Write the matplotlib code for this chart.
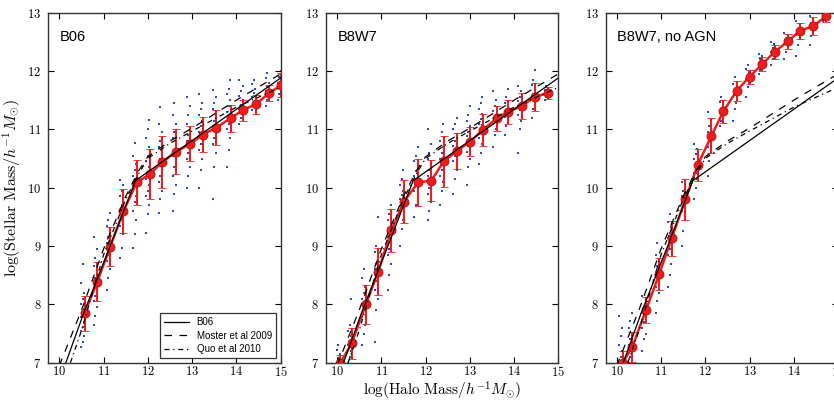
import matplotlib
matplotlib.use("Agg")
import matplotlib.pyplot as plt
from matplotlib.ticker import FuncFormatter

plt.rcParams["mathtext.fontset"] = "cm"

# model relations (black lines), same in every panel
b06_x = [10.1, 10.55, 11.15, 11.72, 15.0]
b06_y = [6.9, 7.85, 9.0, 10.12, 11.88]
moster_x = [10.0, 10.5, 11.0, 11.5, 11.8, 12.0, 12.5, 13.0, 14.0, 15.0]
moster_y = [6.95, 7.9, 8.95, 9.85, 10.3, 10.53, 10.8, 11.02, 11.5, 11.95]
guo_x = [10.25, 10.5, 11.0, 11.5, 11.8, 12.0, 12.5, 13.0, 14.0, 15.0]
guo_y = [7.0, 7.55, 8.85, 9.8, 10.25, 10.5, 10.76, 10.97, 11.38, 11.72]

# panel 1: B06
b06_bins = [10.57, 10.86, 11.15, 11.45, 11.75, 12.04, 12.33, 12.64, 12.96, 13.24,
            13.55, 13.87, 14.15, 14.44, 14.74, 15.02]
b06_med = [7.85, 8.39, 8.99, 9.6, 10.09, 10.23, 10.44, 10.62, 10.75, 10.91,
           11.03, 11.19, 11.33, 11.43, 11.62, 11.76]
b06_err = [0.3, 0.34, 0.34, 0.37, 0.39, 0.43, 0.45, 0.39, 0.3, 0.3,
           0.3, 0.23, 0.18, 0.16, 0.14, 0.2]
b06_dots = [
    [7.27, 7.35, 7.45, 7.55, 7.62, 7.7, 7.78, 7.85, 7.92, 8.0, 8.1, 8.2, 8.36, 8.7],
    [7.65, 7.8, 7.95, 8.05, 8.15, 8.25, 8.35, 8.45, 8.55, 8.65, 8.8, 8.95, 9.16],
    [8.25, 8.45, 8.6, 8.75, 8.85, 8.95, 9.05, 9.15, 9.25, 9.35, 9.45, 9.56],
    [8.8, 8.97, 9.2, 9.35, 9.45, 9.55, 9.62, 9.7, 9.78, 9.85, 9.95, 10.05, 10.13],
    [8.97, 9.2, 9.45, 9.6, 9.75, 9.85, 9.95, 10.05, 10.12, 10.2, 10.3, 10.4, 10.55, 10.76],
    [9.22, 9.55, 9.7, 9.85, 9.95, 10.05, 10.15, 10.25, 10.35, 10.45, 10.55, 10.7, 10.85, 11.0, 11.16],
    [9.56, 9.8, 9.95, 10.1, 10.2, 10.3, 10.4, 10.5, 10.6, 10.7, 10.8, 10.95, 11.1, 11.39],
    [9.6, 9.9, 10.05, 10.2, 10.35, 10.45, 10.55, 10.65, 10.75, 10.85, 10.95, 11.1, 11.25, 11.45],
    [10.0, 10.2, 10.35, 10.5, 10.6, 10.7, 10.8, 10.9, 11.0, 11.1, 11.25, 11.4, 11.56],
    [10.0, 10.3, 10.5, 10.65, 10.75, 10.85, 10.95, 11.05, 11.15, 11.25, 11.35, 11.45, 11.6],
    [9.8, 10.36, 10.6, 10.75, 10.85, 10.95, 11.05, 11.15, 11.25, 11.35, 11.45, 11.55, 11.67],
    [10.35, 10.65, 10.85, 11.0, 11.1, 11.2, 11.3, 11.4, 11.5, 11.6, 11.7, 11.84],
    [11.1, 11.2, 11.28, 11.35, 11.42, 11.5, 11.58, 11.65, 11.75, 11.85],
    [11.33, 11.4, 11.47, 11.55, 11.62, 11.7, 11.78, 11.85],
    [11.4, 11.5, 11.58, 11.65, 11.72, 11.8, 11.88, 11.96],
    [11.5, 11.6, 11.7, 11.8, 11.9, 12.0],
]

# panel 2: B8W7
b8w7_bins = [10.07, 10.33, 10.65, 10.93, 11.23, 11.51, 11.83, 12.13, 12.41, 12.71,
             13.01, 13.29, 13.61, 13.87, 14.17, 14.48, 14.77]
b8w7_med = [6.99, 7.33, 8.0, 8.56, 9.27, 9.76, 10.09, 10.12, 10.45, 10.63,
            10.79, 10.99, 11.19, 11.3, 11.4, 11.56, 11.62]
b8w7_err = [0.15, 0.27, 0.33, 0.4, 0.37, 0.37, 0.4, 0.35, 0.43, 0.31,
            0.25, 0.27, 0.21, 0.2, 0.23, 0.24, 0.1]
b8w7_dots = [
    [7.0, 7.08, 7.15, 7.22, 7.3],
    [7.0, 7.1, 7.2, 7.3, 7.38, 7.46, 7.55, 7.65, 8.1],
    [7.3, 7.5, 7.65, 7.78, 7.9, 8.0, 8.1, 8.2, 8.3, 8.45, 8.6],
    [7.35, 7.9, 8.1, 8.25, 8.4, 8.5, 8.6, 8.7, 8.8, 8.9, 9.0, 9.5],
    [8.25, 8.5, 8.7, 8.85, 8.95, 9.05, 9.15, 9.25, 9.35, 9.45, 9.55, 9.7],
    [9.0, 9.3, 9.45, 9.55, 9.65, 9.72, 9.8, 9.88, 9.95, 10.05, 10.15, 10.3],
    [9.5, 9.7, 9.85, 9.95, 10.05, 10.12, 10.2, 10.28, 10.36, 10.45, 10.55, 10.7],
    [9.45, 9.6, 9.75, 9.9, 10.0, 10.1, 10.2, 10.3, 10.4, 10.5, 10.6, 10.75, 11.0],
    [9.7, 9.95, 10.1, 10.2, 10.3, 10.4, 10.5, 10.6, 10.7, 10.8, 10.95, 11.1],
    [9.9, 10.15, 10.3, 10.45, 10.55, 10.65, 10.72, 10.8, 10.9, 11.0, 11.1, 11.2],
    [10.05, 10.35, 10.5, 10.62, 10.72, 10.8, 10.88, 10.96, 11.05, 11.15, 11.25, 11.4],
    [10.4, 10.6, 10.75, 10.85, 10.95, 11.02, 11.1, 11.18, 11.26, 11.35, 11.45, 11.55],
    [10.7, 10.9, 11.0, 11.1, 11.18, 11.25, 11.32, 11.4, 11.5, 11.65],
    [10.9, 11.05, 11.15, 11.22, 11.3, 11.38, 11.46, 11.55, 11.7],
    [10.6, 11.0, 11.15, 11.25, 11.33, 11.4, 11.48, 11.56, 11.65, 11.75],
    [11.2, 11.35, 11.45, 11.52, 11.6, 11.68, 11.76, 11.85, 12.02],
    [11.5, 11.56, 11.62, 11.68, 11.75],
]

# panel 3: B8W7, no AGN
noagn_bins = [10.13, 10.35, 10.66, 10.96, 11.24, 11.55, 11.83, 12.14, 12.41, 12.71,
              13.0, 13.29, 13.57, 13.87, 14.14, 14.44, 14.73]
noagn_med = [7.0, 7.27, 7.9, 8.52, 9.13, 9.8, 10.39, 10.89, 11.31, 11.66,
             11.9, 12.12, 12.33, 12.51, 12.69, 12.77, 12.94]
noagn_err = [0.2, 0.25, 0.22, 0.28, 0.3, 0.35, 0.28, 0.3, 0.2, 0.17,
             0.12, 0.12, 0.12, 0.13, 0.14, 0.16, 0.1]
noagn_dots = [
    [7.0, 7.1, 7.2, 7.3, 7.45, 7.6, 7.8],
    [7.0, 7.1, 7.2, 7.3, 7.4, 7.5, 7.6, 7.72, 7.85],
    [7.2, 7.4, 7.5, 7.6, 7.7, 7.78, 7.86, 7.95, 8.05, 8.15],
    [7.85, 8.05, 8.2, 8.3, 8.4, 8.48, 8.56, 8.65, 8.75, 8.85, 9.05],
    [8.3, 8.5, 8.7, 8.85, 8.95, 9.05, 9.13, 9.22, 9.32, 9.42, 9.55],
    [9.0, 9.25, 9.45, 9.6, 9.7, 9.78, 9.86, 9.94, 10.02, 10.1],
    [9.8, 10.0, 10.15, 10.25, 10.35, 10.43, 10.5, 10.58, 10.66, 10.75],
    [10.2, 10.45, 10.6, 10.7, 10.8, 10.88, 10.96, 11.05, 11.15, 11.3],
    [11.05, 11.15, 11.22, 11.28, 11.34, 11.4, 11.47, 11.55],
    [11.15, 11.35, 11.45, 11.55, 11.62, 11.7, 11.78, 11.9],
    [11.55, 11.72, 11.8, 11.86, 11.92, 11.98, 12.04, 12.1],
    [11.95, 12.02, 12.08, 12.14, 12.2, 12.25, 12.3],
    [12.1, 12.2, 12.27, 12.33, 12.4, 12.46, 12.5],
    [12.2, 12.32, 12.4, 12.47, 12.53, 12.6, 12.65],
    [12.25, 12.45, 12.55, 12.62, 12.7, 12.77, 12.85],
    [12.45, 12.6, 12.68, 12.75, 12.82, 12.9, 12.95],
    [12.85, 12.9, 12.95, 13.0],
]

panels = [
    ("B06", b06_bins, b06_med, b06_err, b06_dots),
    ("B8W7", b8w7_bins, b8w7_med, b8w7_err, b8w7_dots),
    ("B8W7, no AGN", noagn_bins, noagn_med, noagn_err, noagn_dots),
]

# the dots sit in a few thin columns just left of each bin centre
column_dx = [-0.08, -0.045, -0.01]

fig = plt.figure(figsize=(8.34, 4.0), dpi=100)
lefts = [0.0579, 0.3909, 0.7263]
red = "#ee1c1c"

for i, (name, bins, med, err, dots) in enumerate(panels):
    ax = fig.add_axes([lefts[i], 0.0933, 0.2785, 0.875])

    dx, dy = [], []
    for xc, ys in zip(bins, dots):
        for j, yv in enumerate(ys):
            dx.append(xc + column_dx[j % len(column_dx)])
            dy.append(yv)
    ax.plot(dx, dy, ls="none", marker="s", ms=1.7, mew=0, color="#2a4cc0", zorder=1)

    ax.errorbar(bins, med, yerr=err, color=red, lw=1.8, elinewidth=1.5,
                capsize=3, capthick=1.2, marker="o", ms=6.5, mfc=red,
                mec="#b01010", mew=0.6, zorder=3)

    ax.plot(b06_x, b06_y, color="black", lw=0.9, label="B06", zorder=4)
    ax.plot(moster_x, moster_y, color="black", lw=0.9, ls=(0, (6, 6)),
            label="Moster et al 2009", zorder=4)
    ax.plot(guo_x, guo_y, color="black", lw=0.9, ls=(0, (4, 3, 1, 3)),
            label="Quo et al 2010", zorder=4)

    ax.set_xlim(9.75, 15)
    ax.set_ylim(7, 13)
    ax.set_xticks([10, 11, 12, 13, 14, 15])
    ax.set_yticks([7, 8, 9, 10, 11, 12, 13])
    fmt = FuncFormatter(lambda v, p: "$%d$" % round(v))
    ax.xaxis.set_major_formatter(fmt)
    ax.yaxis.set_major_formatter(fmt)
    ax.tick_params(direction="in", top=True, right=True, length=4,
                   width=0.8, labelsize=9)
    ax.tick_params(axis="x", pad=2)
    ax.tick_params(axis="y", pad=5)
    for s in ax.spines.values():
        s.set_linewidth(1.0)
        s.set_color("#333333")

    ax.text(0.05, 0.93, name, transform=ax.transAxes, fontsize=10.5,
            family="Liberation Sans", ha="left", va="center")

    if i == 0:
        ax.set_ylabel(r"$\log(\mathrm{Stellar\ Mass}/h^{-1}M_{\odot})$", fontsize=11.5,
                      labelpad=3)
        leg = ax.legend(loc="lower right", handlelength=2.6,
                        fancybox=False, borderaxespad=0.5, labelspacing=0.35,
                        prop={"family": "Liberation Sans", "size": 7})
        leg.get_frame().set_edgecolor("black")
        leg.get_frame().set_linewidth(0.9)
    if i == 1:
        ax.set_xlabel(r"$\log(\mathrm{Halo\ Mass}/h^{-1}M_{\odot})$", fontsize=11,
                      labelpad=0)

plt.savefig("out.png", dpi=100)
